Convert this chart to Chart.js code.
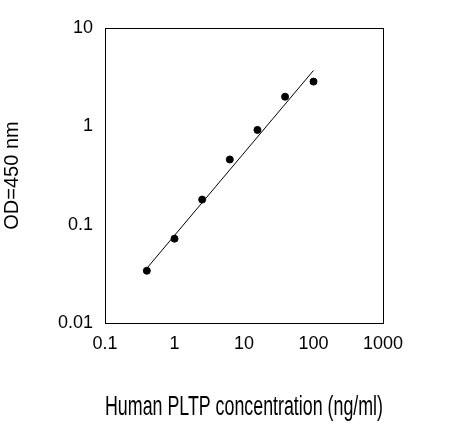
<!DOCTYPE html><html><head><script src="https://cdn.jsdelivr.net/npm/chart.js@4"></script>
<style>body{margin:0;background:#fff}#w{width:465px;height:438px}</style></head><body><div id="w"><canvas id="c"></canvas></div>
<script>
const conc=[0.4,1,2.5,6.25,15.6,39,100];
const od=[0.034,0.072,0.18,0.46,0.92,2.0,2.85];
const fitX=[0.4,100];
const fitY=[0.036,3.7];
const xTicks=[0.1,1,10,100,1000];
const yTicks=[0.01,0.1,1,10];
const frame={id:'frame',afterDraw(c){const a=c.chartArea,x=c.ctx;x.save();x.strokeStyle='#000';x.lineWidth=1;x.strokeRect(a.left+0.5,a.top+0.5,a.right-a.left,a.bottom-a.top);x.restore();}};
const F='Liberation Sans, Arial, sans-serif';
new Chart(document.getElementById('c'),{type:'scatter',
data:{datasets:[
{data:conc.map((v,i)=>({x:v,y:od[i]})),backgroundColor:'#000',borderColor:'#000',pointRadius:3.5},
{type:'line',data:fitX.map((v,i)=>({x:v,y:fitY[i]})),borderColor:'#000',borderWidth:1,pointRadius:0,fill:false}]},
options:{animation:false,responsive:true,maintainAspectRatio:false,
layout:{padding:{left:0,right:82,top:28,bottom:0}},
plugins:{legend:{display:false},tooltip:{enabled:false}},
scales:{
x:{type:'logarithmic',min:0.1,max:1000,afterBuildTicks:s=>{s.ticks=xTicks.map(v=>({value:v}))},afterFit:s=>{s.height=115},
grid:{display:false,drawTicks:true,tickLength:6,tickColor:'#000'},border:{color:'#000'},
ticks:{color:'#000',font:{family:F,size:18},padding:4,maxRotation:0,callback:v=>String(v)},
title:{display:true,text:'Human PLTP concentration (ng/ml)',color:'#000',font:{family:F,size:27},padding:{top:0,bottom:14}}},
y:{type:'logarithmic',min:0.01,max:10,afterBuildTicks:s=>{s.ticks=yTicks.map(v=>({value:v}))},afterFit:s=>{s.width=105},
grid:{display:false,drawTicks:true,tickLength:6,tickColor:'#000'},border:{color:'#000'},
ticks:{color:'#000',font:{family:F,size:18},padding:6,callback:v=>String(v)},
title:{display:true,text:'OD=450 nm',color:'#000',font:{family:F,size:20},padding:{top:0,bottom:8}}}}},
plugins:[frame]});
</script></body></html>
